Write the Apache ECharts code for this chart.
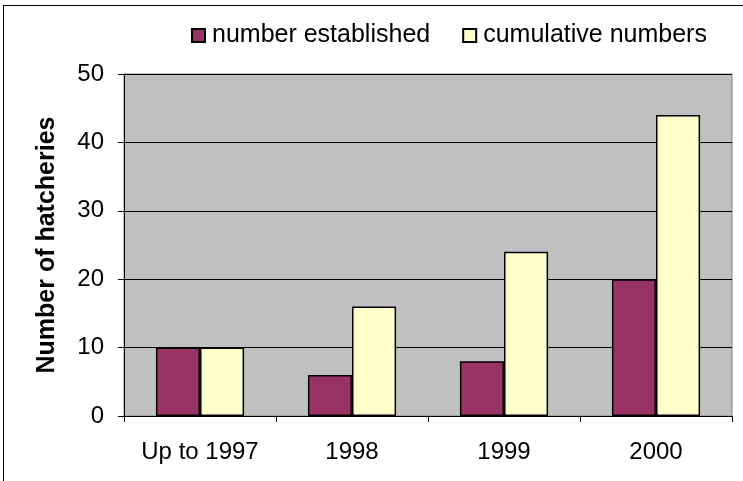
<!DOCTYPE html>
<html>
<head>
<meta charset="utf-8">
<script src="https://cdn.jsdelivr.net/npm/echarts@6/dist/echarts.min.js"></script>
<style>
  html, body { margin: 0; padding: 0; background: #fff; }
  #frame { position: absolute; left: 3px; top: 5px; width: 760px; height: 500px; border: 1px solid #000; }
  #main { position: absolute; left: 0; top: 0; width: 743px; height: 481px; }
</style>
</head>
<body>
<div id="frame"></div>
<div id="main"></div>
<script>
var categories = ['Up to 1997', '1998', '1999', '2000'];
var established = [10, 6, 8, 20];
var cumulative = [10, 16, 24, 44];

var myChart = echarts.init(document.getElementById('main'));
var option = {
    animation: false,
    textStyle: { fontFamily: 'Liberation Sans, Arial, sans-serif', color: '#000' },
    legend: {
        left: 186,
        top: 18,
        itemWidth: 13,
        itemHeight: 13,
        itemGap: 32,
        icon: 'rect',
        textStyle: { fontSize: 25, color: '#000', padding: [0, 0, 0, 2] },
        data: ['number established', 'cumulative numbers']
    },
    grid: {
        left: 124,
        right: 11,
        top: 74,
        bottom: 65,
        show: true,
        backgroundColor: '#c0c0c0',
        borderColor: '#808080',
        borderWidth: 1
    },
    xAxis: {
        type: 'category',
        data: categories,
        axisLine: { lineStyle: { color: '#000', width: 1 } },
        axisTick: { show: true, length: 6, lineStyle: { color: '#000' } },
        axisLabel: { fontSize: 24, color: '#000', margin: 24, interval: 0 }
    },
    yAxis: {
        type: 'value',
        min: 0,
        max: 50,
        interval: 10,
        name: 'Number of hatcheries',
        nameLocation: 'middle',
        nameGap: 64,
        nameTextStyle: { fontSize: 25, fontWeight: 'bold', color: '#000' },
        axisLine: { show: true, lineStyle: { color: '#000' } },
        axisTick: { show: true, length: 6, lineStyle: { color: '#000' } },
        axisLabel: { fontSize: 24, color: '#000', margin: 20 },
        splitLine: { lineStyle: { color: '#000', width: 1 } }
    },
    series: [
        {
            name: 'number established',
            type: 'bar',
            data: established,
            barGap: '0%',
            barCategoryGap: '42%',
            itemStyle: { color: '#993366', borderColor: '#000', borderWidth: 1.5 }
        },
        {
            name: 'cumulative numbers',
            type: 'bar',
            data: cumulative,
            barGap: '0%',
            barCategoryGap: '42%',
            itemStyle: { color: '#ffffcc', borderColor: '#000', borderWidth: 1.5 }
        }
    ]
};
myChart.setOption(option);
</script>
</body>
</html>
